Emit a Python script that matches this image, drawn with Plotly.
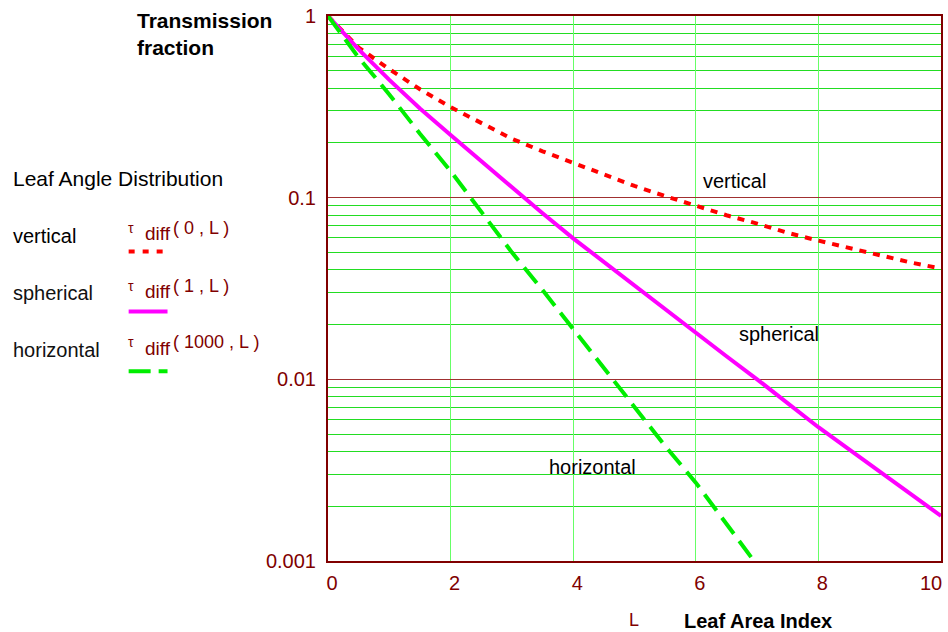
import math
import plotly.graph_objects as go

# ---- data ----
L_vals = [0, 0.5, 1, 1.5, 2, 2.5, 3, 3.5, 4, 4.5, 5, 5.5, 6, 6.5, 7, 7.5, 8, 8.5, 9, 9.5, 10]
tau_vertical = [1, 0.67, 0.51, 0.395, 0.315, 0.257, 0.211, 0.180, 0.155, 0.133, 0.116, 0.102,
                0.090, 0.080, 0.072, 0.064, 0.058, 0.053, 0.048, 0.044, 0.0407]
tau_spherical = [1, 0.655, 0.445, 0.31, 0.221, 0.158, 0.113, 0.082, 0.0597, 0.0442, 0.0328, 0.0244,
                 0.0181, 0.0134, 0.0100, 0.0074, 0.00545, 0.00412, 0.00312, 0.00236, 0.00177]
L_horiz = [0, 0.5, 1, 1.5, 2, 2.5, 3, 3.5, 4, 4.5, 5, 5.5, 6, 6.5, 6.95]
tau_horizontal = [1, 0.59, 0.37, 0.225, 0.14, 0.083, 0.050, 0.031, 0.0190, 0.0115, 0.0071,
                  0.0043, 0.0027, 0.0016, 0.001]
y_tick_vals = [1, 0.1, 0.01, 0.001]
y_tick_text = ["1", "0.1", "0.01", "0.001"]
x_tick_vals = [0, 2, 4, 6, 8]
x_last_tick = 10

DARKRED = "#800000"
W, H = 948, 632
ML, MR, MT, MB = 328, 5, 15, 71
PW, PH = W - ML - MR, H - MT - MB
FS = 20


def px(x):
    return (x - ML) / PW


def py(y):
    return (H - MB - y) / PH


fig = go.Figure()
fig.add_trace(go.Scatter(x=L_vals, y=tau_vertical, mode="lines",
                         line=dict(color="#FF0000", width=4, dash="7px,7px"), showlegend=False))
fig.add_trace(go.Scatter(x=L_vals, y=tau_spherical, mode="lines",
                         line=dict(color="#FF00FF", width=4), showlegend=False))
fig.add_trace(go.Scatter(x=L_horiz, y=tau_horizontal, mode="lines",
                         line=dict(color="#00EE00", width=4, dash="20px,9px"), showlegend=False))

font_main = "Liberation Sans, Arial, sans-serif"

fig.update_layout(
    width=W, height=H,
    margin=dict(l=ML, r=MR, t=MT, b=MB, pad=0),
    paper_bgcolor="white", plot_bgcolor="white",
    font=dict(family=font_main, size=FS, color="black"),
    xaxis=dict(range=[0, 10], tickvals=x_tick_vals, showgrid=True, gridcolor="#66FF66", gridwidth=1,
               zeroline=False, showline=True, linecolor=DARKRED, linewidth=2, mirror=True,
               ticks="", tickfont=dict(color=DARKRED, size=FS), ticklabelstandoff=3,
               ticklabelshift=4),
    yaxis=dict(type="log", range=[-3, 0], tickvals=y_tick_vals, ticktext=y_tick_text,
               showgrid=True, gridcolor="#A03030", gridwidth=1,
               minor=dict(showgrid=True, gridcolor="#22DD22", gridwidth=1, dtick="D1"),
               zeroline=False, showline=True, linecolor=DARKRED, linewidth=2, mirror=True,
               ticks="", tickfont=dict(color=DARKRED, size=FS), ticklabelstandoff=6),
)

ann = []
# last x tick label (kept inside the page like the reference)
ann.append(dict(text=str(x_last_tick), x=x_last_tick, y=py(583), xref="x", yref="paper",
                xanchor="right", yanchor="middle", xshift=3, showarrow=False,
                font=dict(size=FS, color=DARKRED)))
# axis titles
ann.append(dict(text="<b>Transmission<br>fraction</b>", x=px(134), y=py(33), xref="paper", yref="paper",
                xanchor="left", yanchor="middle", align="left", showarrow=False, font=dict(size=21)))
ann.append(dict(text="L", x=px(628), y=py(620), xref="paper", yref="paper", xanchor="left",
                yanchor="middle", showarrow=False, font=dict(size=18, color=DARKRED)))
ann.append(dict(text="<b>Leaf Area Index</b>", x=px(683), y=py(621), xref="paper", yref="paper",
                xanchor="left", yanchor="middle", showarrow=False, font=dict(size=FS)))
# left legend block
ann.append(dict(text="Leaf Angle Distribution", x=px(10), y=py(178), xref="paper", yref="paper",
                xanchor="left", yanchor="middle", showarrow=False, font=dict(size=21)))
legend_rows = [("vertical", "0", 235, 251, "#FF0000", "6px,8px", "#000000"),
               ("spherical", "1", 293, 311, "#FF00FF", "solid", "#111111"),
               ("horizontal", "1000", 350, 371, "#00EE00", "22px,8px", "#111111")]
for name, arg, ty, ly, col, dash, tcol in legend_rows:
    ann.append(dict(text=name, x=px(10), y=py(ty), xref="paper", yref="paper",
                    xanchor="left", yanchor="middle", showarrow=False, font=dict(size=FS, color=tcol)))
    ann.append(dict(text="τ", x=px(125), y=py(ty - 8), xref="paper", yref="paper",
                    xanchor="left", yanchor="middle", showarrow=False,
                    font=dict(size=14, color=DARKRED)))
    ann.append(dict(text="diff", x=px(142), y=py(ty - 2), xref="paper", yref="paper",
                    xanchor="left", yanchor="middle", showarrow=False,
                    font=dict(size=19, color=DARKRED)))
    ann.append(dict(text="( " + arg + " , L )", x=px(170), y=py(ty - 8), xref="paper", yref="paper",
                    xanchor="left", yanchor="middle", showarrow=False,
                    font=dict(size=18, color=DARKRED)))
    fig.add_shape(type="line", xref="paper", yref="paper", x0=px(128), x1=px(167), y0=py(ly), y1=py(ly),
                  line=dict(color=col, width=4, dash=dash))
# in-plot labels
ann.append(dict(text="vertical", x=6.08, y=math.log10(0.124), xanchor="left", yanchor="middle",
                showarrow=False, font=dict(size=FS)))
ann.append(dict(text="spherical", x=6.68, y=math.log10(0.0178), xanchor="left", yanchor="middle",
                showarrow=False, font=dict(size=FS)))
ann.append(dict(text="horizontal", x=3.58, y=math.log10(0.00328), xanchor="left", yanchor="middle",
                showarrow=False, font=dict(size=FS)))
fig.update_layout(annotations=ann)

fig.write_html("out.html", config={"displayModeBar": False},
               post_script="document.body.style.margin='0';document.body.style.padding='0';")
